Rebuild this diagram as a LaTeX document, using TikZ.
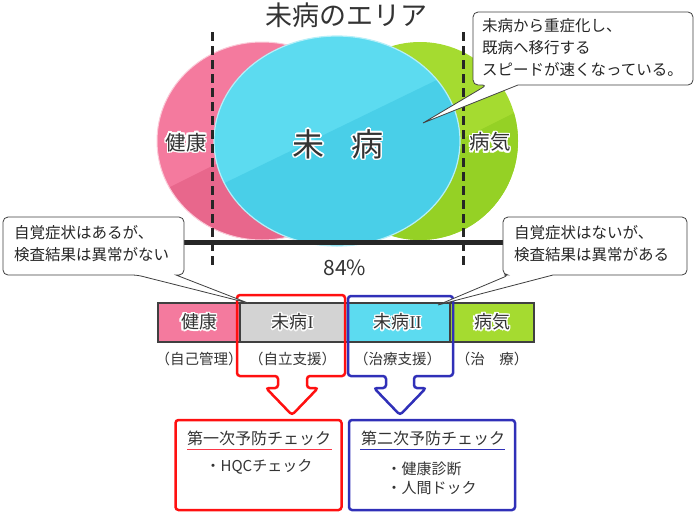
\documentclass[tikz,border=0pt]{standalone}
\usepackage{fontspec}
\setmainfont{Noto Sans CJK JP}
\newfontfamily\romanfont{Liberation Serif}
\usepackage{contour}
\contourlength{1.5pt}
\usetikzlibrary{positioning}

\definecolor{txt}{HTML}{333333}
\definecolor{pinkA}{HTML}{F47A9E}
\definecolor{pinkB}{HTML}{E8678C}
\definecolor{cyanA}{HTML}{5CDBF0}
\definecolor{cyanB}{HTML}{49CFE8}
\definecolor{greenA}{HTML}{A5DB30}
\definecolor{greenB}{HTML}{95D125}
\definecolor{grayA}{HTML}{D3D3D3}
\definecolor{redA}{HTML}{FF1010}
\definecolor{blueA}{HTML}{3030B8}

\tikzset{
  callout/.style={draw=black!75, fill=white, line width=0.8pt},
  calltext/.style={font=\fontsize{15.5}{22}\selectfont, align=left, text=black!85, inner sep=0pt, anchor=north west},
  seg/.style={draw=black!75, line width=2.5pt, minimum height=39pt, outer sep=0pt, inner sep=0pt, text=txt, font=\fontsize{18}{18}\selectfont},
  sublabel/.style={font=\fontsize{14.5}{14}\selectfont, text=txt},
  dashline/.style={black!85, line width=3pt, dash pattern=on 9pt off 5pt},
  pointer/.style={line width=2.5pt, rounded corners=3pt},
  checkbox/.style={line width=2.5pt, rounded corners=3pt, minimum width=166pt, minimum height=90pt},
  checktitle/.style={font=\fontsize{16}{16}\selectfont, text=txt},
  checkitem/.style={font=\fontsize{15}{19}\selectfont, text=txt, align=left},
  blob/.style={font=\fontsize{20.5}{20}\selectfont, text=txt}
}

\begin{document}
\begin{tikzpicture}[x=1pt, y=-1pt]
\useasboundingbox (0,0) rectangle (695,512);

% ellipses
\fill[pinkA] (262,141) ellipse [x radius=105, y radius=99];
\begin{scope}
  \clip (262,141) ellipse [x radius=105, y radius=99];
  \fill[pinkB] (140,202) -- (400,72) -- (400,260) -- (140,260) -- cycle;
\end{scope}
\draw[white!60!pinkA, line width=1pt] (262,141) ellipse [x radius=105, y radius=99];
\fill[greenA] (420,141) ellipse [x radius=98, y radius=99];
\begin{scope}
  \clip (420,141) ellipse [x radius=98, y radius=99];
  \fill[greenB] (300,220) -- (540,100) -- (540,260) -- (300,260) -- cycle;
\end{scope}
\fill[cyanA] (337,141) ellipse [x radius=123, y radius=105];
\begin{scope}
  \clip (337,141) ellipse [x radius=123, y radius=105];
  \fill[cyanB] (200,195) -- (480,59) -- (480,260) -- (200,260) -- cycle;
\end{scope}
\draw[white!55!cyanA, line width=1.2pt] (337,141) ellipse [x radius=123, y radius=105];

% bar and borders
\draw[black!85, line width=5pt] (184,242) -- (503,242);
\draw[dashline] (212,32) -- (212,266);
\draw[dashline] (463,32) -- (463,266);

\node[font=\fontsize{27}{27}\selectfont, text=txt] (title) at (346,15) {未病のエリア};
\node[blob] (health) at (186,143) {\contour{white}{健康}};
\node[font=\fontsize{32}{32}\selectfont, text=txt] (presick) at (338,145) {\contour{white}{未\hspace{27pt}病}};
\node[blob] (sick) at (490,143) {\contour{white}{病気}};
\node[font=\fontsize{21}{21}\selectfont, text=txt] (rate) at (345,268) {84\%};

% segment bar
\node[seg, fill=pinkA, minimum width=82pt] (kenko) at (199,322.5) {\contour{white}{健康}};
\node[seg, fill=grayA, minimum width=105pt, right=0pt of kenko] (mibyo1) {\contour{white}{未病{\romanfont I}}};
\node[seg, fill=cyanA, minimum width=105pt, right=0pt of mibyo1] (mibyo2) {\contour{white}{未病{\romanfont II}}};
\node[seg, fill=greenA, minimum width=84pt, right=0pt of mibyo2] (byoki) {\contour{white}{病気}};

\node[sublabel, below=7pt of kenko] (self) {（自己管理）};
\node[sublabel, below=7pt of mibyo1] (indep) {（自立支援）};
\node[sublabel, below=7pt of mibyo2] (treatsup) {（治療支援）};
\node[sublabel, below=7pt of byoki] (treat) {（治　療）};

% arrow outlines
\draw[pointer, redA] (237,295) -- (345,295) -- (345,376) -- (307,376) -- (307,388) -- (318,388)
  -- (292,415) -- (266,388) -- (278,388) -- (278,376) -- (237,376) -- cycle;
\draw[pointer, blueA] (348,296) -- (453,296) -- (453,376) -- (414,376) -- (414,388) -- (426,388)
  -- (400,415) -- (374,388) -- (386,388) -- (386,376) -- (348,376) -- cycle;

% check boxes
\node[checkbox, draw=redA] (first) at (258.5,465) {};
\node[checkbox, draw=blueA] (second) at (432,465) {};
\node[checktitle] (firstttl) at (259,438) {第一次予防チェック};
\node[checktitle] (secondttl) at (433,438) {第二次予防チェック};
\draw[red!55!pinkA, line width=0.8pt] (187,449) -- (332,449);
\draw[blueA, line width=0.8pt] (360,449) -- (505,449);
\node[checkitem] (hqc) at (259,467) {・HQCチェック};
\node[checkitem, anchor=north west] (dock) at (383,458) {・健康診断\\・人間ドック};

% callouts
\draw[callout] (137,275) [sharp corners] -- (248,303) -- (176,275) [rounded corners=5pt] -- (184,275)
  -- (184,217) -- (3,217) -- (3,275) -- cycle;
\node[calltext] (leftnote) at (14,225) {自覚症状はあるが、\\検査結果は異常がない};
\draw[callout] (509,275) [sharp corners] -- (438,305) -- (553,275) [rounded corners=5pt] -- (687,275)
  -- (687,217) -- (503,217) -- (503,275) -- cycle;
\node[calltext] (rightnote) at (514,225) {自覚症状はないが、\\検査結果は異常がある};
\draw[callout] (487,85) [sharp corners] -- (423,123) -- (518,85) [rounded corners=5pt] -- (693,85)
  -- (693,12) -- (473,12) -- (473,85) -- cycle;
\node[calltext] (topnote) at (482,18) {未病から重症化し、\\既病へ移行する\\スピードが速くなっている。};
\end{tikzpicture}
\end{document}
